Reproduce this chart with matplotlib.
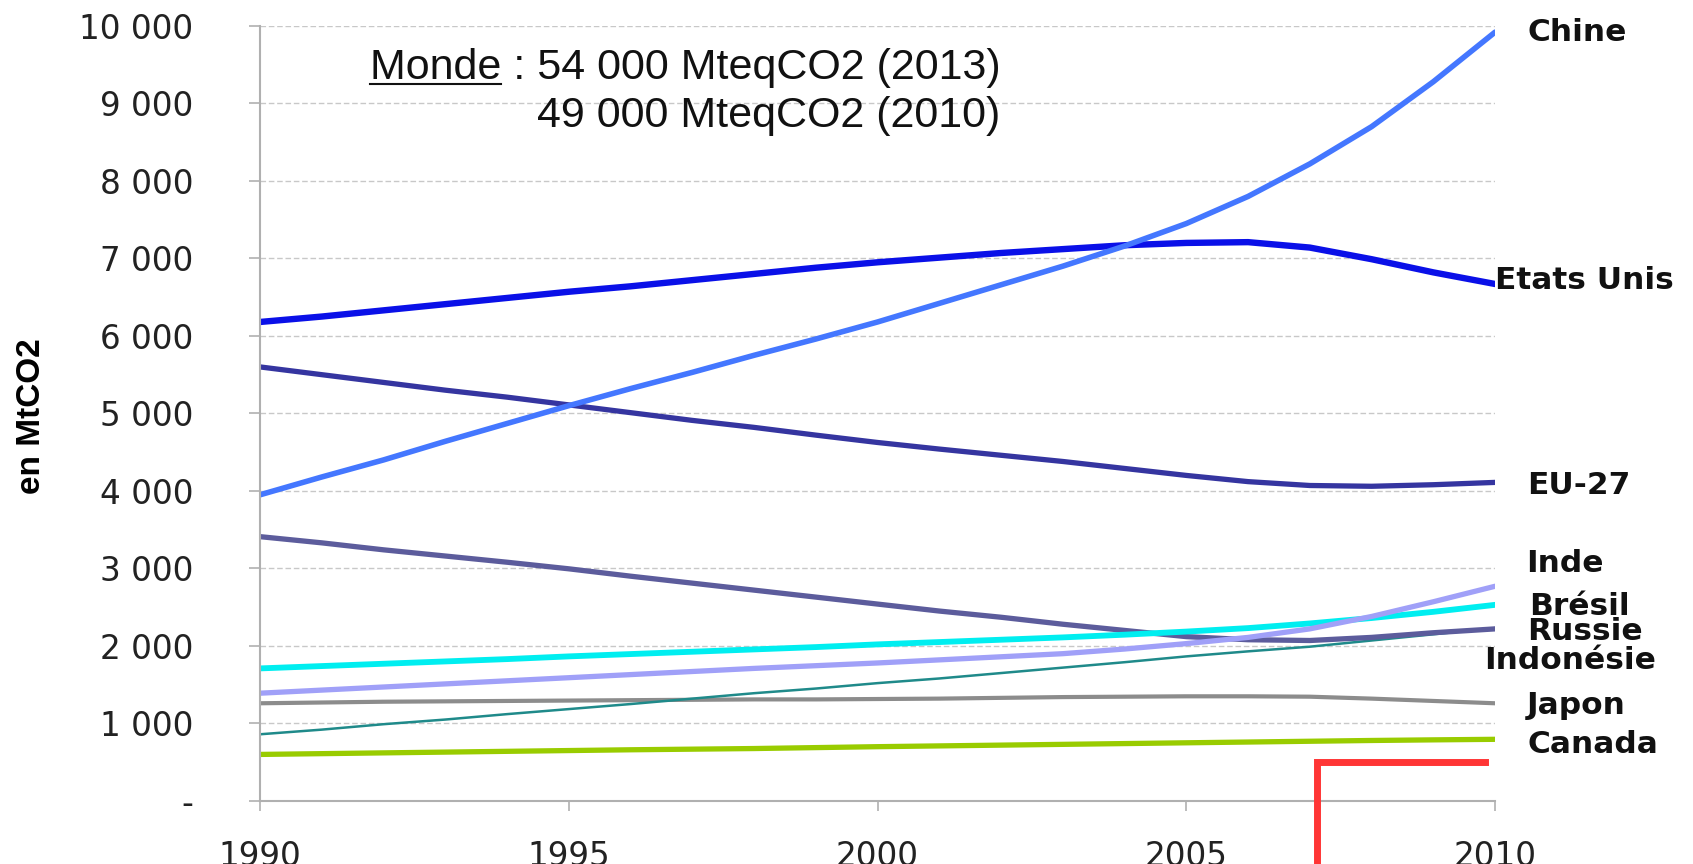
import matplotlib
matplotlib.use('Agg')
from matplotlib import pyplot as plt
from matplotlib.lines import Line2D

# emissions in MtCO2, 1990-2010
years = list(range(1990, 2011))
chine = [3950, 4180, 4400, 4640, 4870, 5100, 5320, 5530, 5750, 5960, 6180,
         6420, 6660, 6900, 7160, 7450, 7800, 8220, 8700, 9280, 9920]
etats_unis = [6180, 6250, 6330, 6410, 6490, 6570, 6640, 6720, 6800, 6880, 6950,
              7010, 7070, 7120, 7170, 7200, 7210, 7140, 6990, 6820, 6670]
eu27 = [5600, 5500, 5400, 5300, 5210, 5110, 5010, 4910, 4820, 4720, 4625,
        4540, 4460, 4380, 4290, 4200, 4120, 4070, 4060, 4080, 4110]
russie = [3410, 3330, 3240, 3160, 3080, 2995, 2900, 2810, 2720, 2630, 2540,
          2450, 2370, 2280, 2200, 2120, 2080, 2070, 2110, 2170, 2220]
indonesie = [860, 920, 990, 1050, 1120, 1185, 1250, 1320, 1390, 1450, 1520,
             1580, 1650, 1720, 1790, 1865, 1930, 1990, 2070, 2150, 2230]
inde = [1390, 1430, 1470, 1510, 1550, 1590, 1630, 1670, 1710, 1745, 1780,
        1820, 1860, 1900, 1960, 2030, 2110, 2220, 2380, 2570, 2770]
bresil = [1710, 1740, 1770, 1800, 1830, 1865, 1895, 1925, 1955, 1985, 2020,
          2050, 2080, 2110, 2145, 2185, 2230, 2290, 2360, 2440, 2530]
japon = [1260, 1270, 1280, 1285, 1290, 1295, 1300, 1305, 1310, 1310, 1315,
         1320, 1330, 1340, 1345, 1350, 1350, 1345, 1320, 1290, 1260]
canada = [600, 610, 620, 630, 640, 650, 660, 668, 676, 688, 700,
          710, 720, 730, 740, 750, 760, 770, 780, 788, 795]

# label name, x, y (data units) for the right-hand labels
labels = ["Chine", "Etats Unis", "EU-27", "Inde", "Brésil", "Russie", "Indonésie", "Japon", "Canada"]
label_x = [2010.52, 2010.0, 2010.52, 2010.5, 2010.55, 2010.52, 2009.83, 2010.52, 2010.52]
label_y = [9916, 6713, 4066, 3064, 2507, 2187, 1811, 1226, 724]

yticks = list(range(0, 10001, 1000))
ytick_labels = ["-", "1 000", "2 000", "3 000", "4 000", "5 000",
                "6 000", "7 000", "8 000", "9 000", "10 000"]
xticks = [1990, 1995, 2000, 2005, 2010]

fig = plt.figure(figsize=(16.93, 8.64), dpi=100)
ax = fig.add_axes([0.1536, 0.073, 0.7295, 0.897])

ax.plot(years, canada, color="#99cc00", lw=3.8, solid_capstyle="round")
ax.plot(years, japon, color="#8c8c8c", lw=3.0, solid_capstyle="round")
ax.plot(years, indonesie, color="#1f8a8a", lw=1.8, solid_capstyle="round")
ax.plot(years, russie, color="#5c5c9c", lw=3.8, solid_capstyle="round")
ax.plot(years, bresil, color="#00eef0", lw=4.2, solid_capstyle="round")
ax.plot(years, inde, color="#a0a0f8", lw=3.8, solid_capstyle="round")
ax.plot(years, eu27, color="#3535a0", lw=3.8, solid_capstyle="round")
ax.plot(years, etats_unis, color="#0a10e8", lw=4.6, solid_capstyle="round")
ax.plot(years, chine, color="#4477ff", lw=4.0, solid_capstyle="round")

for name, x, y in zip(labels, label_x, label_y):
    ax.text(x, y, name, fontsize=22.5, fontweight="bold", color="#111111",
            ha="left", va="center", clip_on=False)

ax.set_xlim(1990, 2010)
ax.set_ylim(0, 10000)
ax.set_yticks(yticks)
ax.set_yticklabels(ytick_labels)
ax.set_xticks(xticks)
ax.grid(axis="y", color="#c8c8c8", linestyle=(0, (4, 2)), lw=1)
ax.set_axisbelow(True)
for s in ["top", "right"]:
    ax.spines[s].set_visible(False)
ax.spines["left"].set_color("#b0b0b0")
ax.spines["bottom"].set_color("#b0b0b0")
ax.spines["left"].set_linewidth(1.5)
ax.spines["bottom"].set_linewidth(1.5)
ax.tick_params(axis="y", length=8, width=1.2, color="#b0b0b0", pad=40,
               labelsize=23.5, labelcolor="#222222")
ax.tick_params(axis="x", length=7, width=1.2, color="#b0b0b0", pad=21,
               labelsize=23.5, labelcolor="#222222")

narrow = ["Liberation Sans Narrow", "Liberation Sans", "DejaVu Sans"]
fig.text(32 / 1693, 1 - 416 / 864, "en MtCO2", rotation=90, fontsize=24,
         fontweight="bold", ha="center", va="center", family=narrow)

# "Monde" box text with underline
x0 = 370 / 1693
t1 = fig.text(x0, 1 - 79 / 864, "Monde : 54 000 MteqCO2 (2013)", fontsize=31,
              family=narrow, ha="left", va="baseline", color="#111111")
fig.canvas.draw()
r = fig.canvas.get_renderer()
tm = fig.text(x0, 1 - 79 / 864, "Monde", fontsize=31, family=narrow,
              ha="left", va="baseline", alpha=0)
bm = tm.get_window_extent(r)
b1 = t1.get_window_extent(r)
W, H = fig.bbox.width, fig.bbox.height
uy = 1 - 84 / 864
fig.add_artist(Line2D([bm.x0 / W, bm.x1 / W], [uy, uy], color="#111111", lw=1.5))
fig.text(b1.x1 / W, 1 - 127 / 864, "49 000 MteqCO2 (2010)", fontsize=31,
         family=narrow, ha="right", va="baseline", color="#111111")

# red corner mark
fig.add_artist(Line2D([1317 / 1693, 1317 / 1693, 1485 / 1693],
                      [0, 1 - 762 / 864, 1 - 762 / 864],
                      color="#ff3535", lw=5, solid_joinstyle="miter"))

fig.savefig("out.png", dpi=100, facecolor="white")
